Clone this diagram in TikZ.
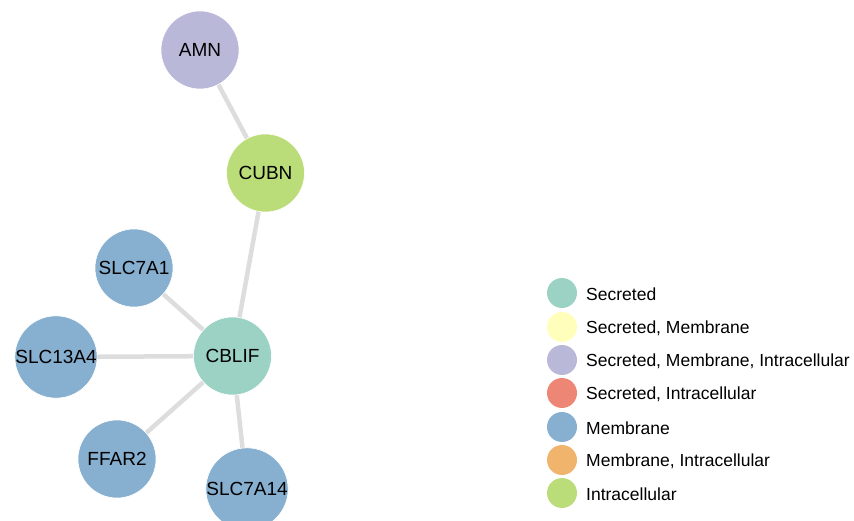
\documentclass[tikz,border=0pt]{standalone}
\usepackage{fontspec}
\setmainfont{Liberation Sans}
\usetikzlibrary{backgrounds}
\definecolor{csec}{HTML}{9BD2C4}
\definecolor{csecmem}{HTML}{FFFFBB}
\definecolor{csecmemin}{HTML}{BAB8D9}
\definecolor{csecin}{HTML}{EE8676}
\definecolor{cmem}{HTML}{87AFCF}
\definecolor{cmemin}{HTML}{F1B46C}
\definecolor{cin}{HTML}{BBDD79}
\definecolor{cedge}{HTML}{DDDDDD}
\tikzset{
  gene/.style={circle, minimum size=78pt, inner sep=0pt, draw=white, line width=0.6pt, font=\fontsize{19}{21}\selectfont},
  link/.style={draw=cedge, line width=4.5pt},
  legdot/.style={circle, minimum size=30pt, inner sep=0pt},
  legtext/.style={anchor=west, inner sep=0pt, font=\fontsize{17.5}{19}\selectfont}
}
\begin{document}
\begin{tikzpicture}[x=1pt,y=-1pt]
\useasboundingbox (0,0) rectangle (854,521);
\begin{scope}
\clip (0,0) rectangle (854,521);
\node[gene, fill=csecmemin] (amn) at (200,50) {AMN};
\node[gene, fill=cin] (cubn) at (265.5,173) {CUBN};
\node[gene, fill=cmem] (slc7a1) at (134,268) {SLC7A1};
\node[gene, fill=csec] (cblif) at (232.5,356) {CBLIF};
\node[gene, fill=cmem] (slc13a4) at (56,357) {SLC13A4};
\node[gene, fill=cmem] (ffar2) at (117,459) {FFAR2};
\node[gene, fill=cmem] (slc7a14) at (247,489) {SLC7A14};
\begin{scope}[on background layer]
\draw[link] (amn.center) -- (cubn.center);
\draw[link] (cubn.center) -- (cblif.center);
\draw[link] (slc7a1.center) -- (cblif.center);
\draw[link] (slc13a4.center) -- (cblif.center);
\draw[link] (ffar2.center) -- (cblif.center);
\draw[link] (slc7a14.center) -- (cblif.center);
\end{scope}
\end{scope}
\node[legdot, fill=csec] (l1) at (562,293) {};
\node[legdot, fill=csecmem] (l2) at (562,327) {};
\node[legdot, fill=csecmemin] (l3) at (562,360) {};
\node[legdot, fill=csecin] (l4) at (562,393) {};
\node[legdot, fill=cmem] (l5) at (562,427) {};
\node[legdot, fill=cmemin] (l6) at (562,460) {};
\node[legdot, fill=cin] (l7) at (562,493) {};
\node[legtext] (t1) at (586,294) {Secreted};
\node[legtext] (t2) at (586,328) {Secreted, Membrane};
\node[legtext] (t3) at (586,361) {Secreted, Membrane, Intracellular};
\node[legtext] (t4) at (586,394) {Secreted, Intracellular};
\node[legtext] (t5) at (586,428) {Membrane};
\node[legtext] (t6) at (586,461) {Membrane, Intracellular};
\node[legtext] (t7) at (586,494) {Intracellular};
\end{tikzpicture}
\end{document}
